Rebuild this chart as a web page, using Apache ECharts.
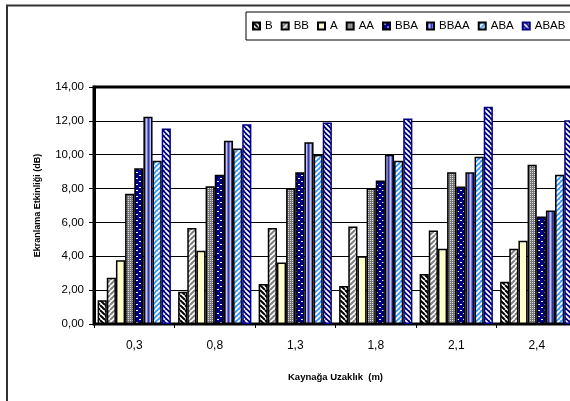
<!DOCTYPE html>
<html>
<head>
<meta charset="utf-8">
<script src="https://cdn.jsdelivr.net/npm/echarts@6/dist/echarts.min.js"></script>
<style>
  html, body { margin: 0; padding: 0; background: #fff; overflow: hidden; }
  #chart { width: 600px; height: 401px; }
</style>
</head>
<body>
<div id="chart"></div>
<script>
// Distance from source (m) and shielding effectiveness (dB) per material layout
const categories = ['0,3', '0,8', '1,3', '1,8', '2,1', '2,4'];
const seriesNames = ['B', 'BB', 'A', 'AA', 'BBA', 'BBAA', 'ABA', 'ABAB'];
const valB    = [1.41, 1.90, 2.37, 2.24, 2.96, 2.49];
const valBB   = [2.73, 5.67, 5.67, 5.76, 5.53, 4.45];
const valA    = [3.76, 4.33, 3.63, 4.00, 4.45, 4.92];
const valAA   = [7.69, 8.14, 8.02, 8.02, 8.96, 9.41];
const valBBA  = [9.20, 8.82, 8.96, 8.47, 8.12, 6.35];
const valBBAA = [12.25, 10.82, 10.73, 10.00, 8.96, 6.70];
const valABA  = [9.65, 10.37, 10.00, 9.65, 9.88, 8.82];
const valABAB = [11.55, 11.80, 11.90, 12.14, 12.84, 12.04];
const yTicks = [0, 2, 4, 6, 8, 10, 12, 14];

// --- hatch / fill patterns drawn on small tiles ---
function tile(size, draw) {
  const c = document.createElement('canvas');
  c.width = size; c.height = size;
  const g = c.getContext('2d');
  draw(g, size);
  return { image: c, repeat: 'repeat' };
}
function diag(bg, fg, dir, w, size) {
  return tile(size, (g, s) => {
    g.fillStyle = bg; g.fillRect(0, 0, s, s);
    g.strokeStyle = fg; g.lineWidth = w;
    g.beginPath();
    for (let k = -1; k <= 1; k++) {
      if (dir > 0) { // "/"
        g.moveTo(k * s, s); g.lineTo(k * s + s, 0);
      } else {       // "\"
        g.moveTo(k * s, 0); g.lineTo(k * s + s, s);
      }
    }
    g.stroke();
  });
}
const patB = diag('#ffffff', '#000000', -1, 2, 5);
const patBB = diag('#ffffff', '#808080', 1, 2, 5);
const patA = '#ffffcc';
const patAA = tile(4, (g, s) => {
  g.fillStyle = '#777777'; g.fillRect(0, 0, s, s);
  g.fillStyle = '#dddddd';
  g.fillRect(0, 0, 1, 1); g.fillRect(2, 2, 1, 1);
  g.fillRect(2, 0, 1, 1); g.fillRect(0, 2, 1, 1);
});
const patBBA = tile(6, (g, s) => {
  g.fillStyle = '#000080'; g.fillRect(0, 0, s, s);
  g.fillStyle = '#ffffff';
  g.fillRect(1, 1, 2, 1); g.fillRect(4, 4, 2, 1);
});
const patBBAA = tile(4, (g, s) => {
  g.fillStyle = '#7777dd'; g.fillRect(0, 0, s, s);
  g.fillStyle = '#333399'; g.fillRect(0, 0, 1, s);
  g.fillStyle = '#c4c4ff'; g.fillRect(2, 0, 1, s);
});
const patABA = diag('#3399ff', '#ffffff', 1, 1.8, 5);
const patABAB = diag('#000080', '#ffffff', -1, 1.8, 5);

const fills = [patB, patBB, patA, patAA, patBBA, patBBAA, patABA, patABAB];
const borders = ['#000', '#000', '#000', '#000', '#000', '#000', '#000', '#000080'];
const values = [valB, valBB, valA, valAA, valBBA, valBBAA, valABA, valABAB];

const chart = echarts.init(document.getElementById('chart'), null, { renderer: 'canvas' });
const W = 600;
const fontFam = '"Liberation Sans", Arial, sans-serif';

const series = seriesNames.map((name, i) => ({
  name: name,
  type: 'bar',
  data: values[i],
  barGap: '0%',
  barCategoryGap: '9%',
  itemStyle: { color: fills[i], borderColor: borders[i], borderWidth: 1.5 },
  emphasis: { disabled: true },
  animation: false
}));

chart.setOption({
  animation: false,
  textStyle: { fontFamily: fontFam, color: '#000' },
  graphic: [
    {
      type: 'rect', silent: true, z: -1,
      shape: { x: 7, y: 5.5, width: 700, height: 500 },
      style: { fill: 'none', stroke: '#333', lineWidth: 2 }
    }
  ],
  legend: {
    data: seriesNames,
    left: 246, top: 12,
    width: 400,
    orient: 'horizontal',
    itemWidth: 7, itemHeight: 7,
    itemGap: 8,
    padding: [8, 10, 8, 6],
    borderColor: '#000', borderWidth: 1,
    backgroundColor: '#fff',
    textStyle: { fontFamily: fontFam, fontSize: 11.5, color: '#000' },
    icon: 'rect',
    selectedMode: false
  },
  grid: {
    left: 94, top: 87, right: W - 577, bottom: 401 - 324,
    show: true, borderColor: '#000', borderWidth: 3, backgroundColor: 'transparent'
  },
  xAxis: {
    type: 'category',
    data: categories,
    name: 'Kaynağa Uzaklık  (m)',
    nameLocation: 'middle',
    nameGap: 48,
    nameTextStyle: { fontFamily: fontFam, fontSize: 9.5, fontWeight: 'bold', color: '#000' },
    axisLine: { lineStyle: { color: '#000', width: 2 } },
    axisTick: { show: true, length: 4, lineStyle: { color: '#000', width: 1 } },
    axisLabel: { fontFamily: fontFam, fontSize: 12, color: '#000', margin: 16 },
    splitLine: { show: false }
  },
  yAxis: {
    type: 'value',
    min: 0, max: 14, interval: 2,
    name: 'Ekranlama Etkinliği (dB)',
    nameLocation: 'middle',
    nameRotate: 90,
    nameGap: 52,
    nameTextStyle: { fontFamily: fontFam, fontSize: 9, fontWeight: 'bold', color: '#000' },
    axisLine: { show: true, lineStyle: { color: '#000', width: 3 } },
    axisTick: { show: true, length: 5, lineStyle: { color: '#000', width: 1 } },
    axisLabel: {
      fontFamily: fontFam, fontSize: 11.5, color: '#000', margin: 10,
      formatter: v => (yTicks.indexOf(v) >= 0 ? v.toFixed(2).replace('.', ',') : '')
    },
    splitLine: { show: true, lineStyle: { color: '#000', width: 1 } }
  },
  series: series
});
</script>
</body>
</html>
